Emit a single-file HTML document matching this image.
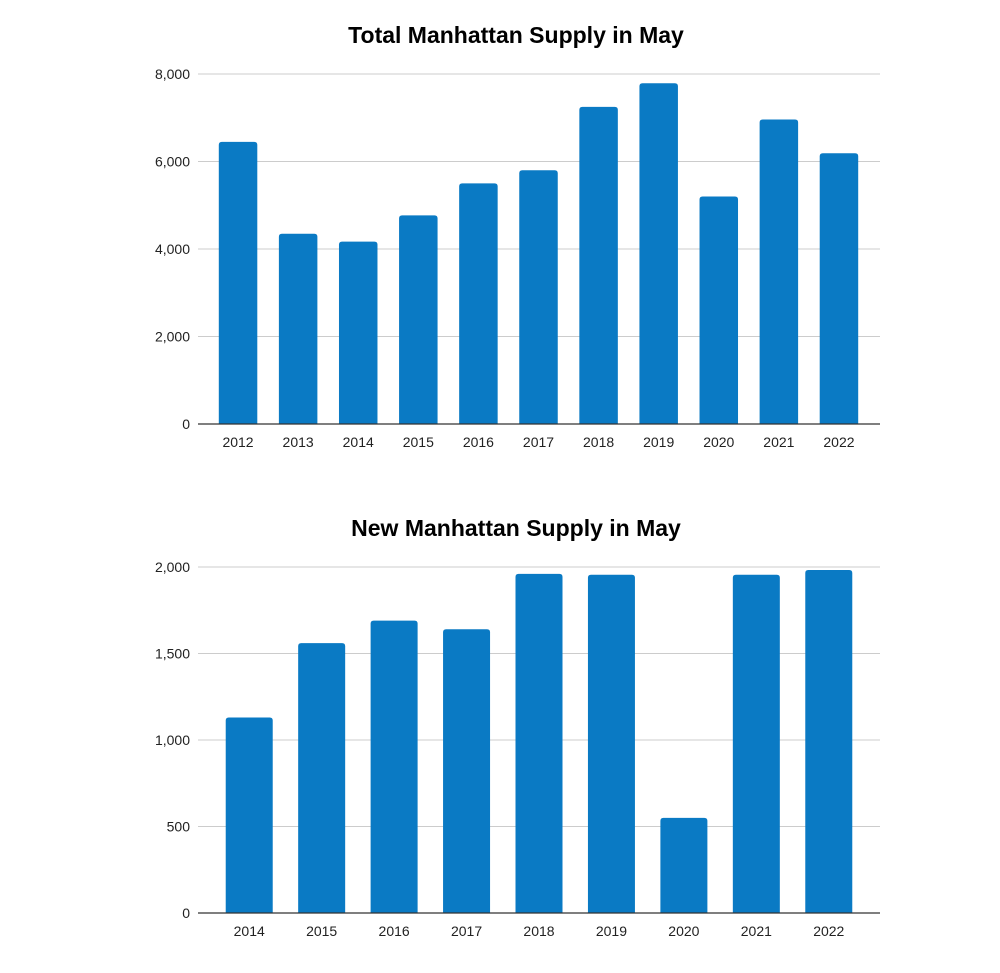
<!DOCTYPE html>
<html><head><meta charset="utf-8"><style>
body{margin:0;background:#fff;}
svg text{font-family:"Liberation Sans",Arial,sans-serif;}
</style></head><body>
<svg id="c" width="1000" height="968"></svg>
<script>
const cats1=["2012","2013","2014","2015","2016","2017","2018","2019","2020","2021","2022"];
const vals1=[6450,4350,4170,4770,5500,5800,7250,7790,5200,6960,6190];
const ticks1=[0,2000,4000,6000,8000];
const cats2=["2014","2015","2016","2017","2018","2019","2020","2021","2022"];
const vals2=[1130,1560,1690,1640,1960,1955,550,1955,1983];
const ticks2=[0,500,1000,1500,2000];
const NS="http://www.w3.org/2000/svg";
const svg=document.getElementById('c');
function mk(t,a,p){const e=document.createElementNS(NS,t);for(const k in a)e.setAttribute(k,a[k]);(p||svg).appendChild(e);return e;}
function chart(cfg){
  const g=mk('g',{});
  
  
  const t=mk('text',{x:516,y:cfg.titleY,'text-anchor':'middle','font-size':23,'font-weight':'bold',fill:'#000'},g);
  t.textContent=cfg.title;
  
  
  const maxV=cfg.ticks[cfg.ticks.length-1];
  const y=v=>cfg.y0-(v/maxV)*(cfg.y0-cfg.yTop);
  cfg.ticks.forEach(v=>{
    if(v>0){const l=mk('line',{x1:198,x2:880,y1:y(v),y2:y(v),stroke:'#ccc','stroke-width':1},g);
      
      }
    const tx=mk('text',{x:190,y:y(v)+5,'text-anchor':'end','font-size':14,fill:'#222'},g);
    tx.textContent=v.toLocaleString('en-US');
    
    
  });
  const n=cfg.cats.length;
  const x=i=>cfg.xL+(i+0.5)*(cfg.xR-cfg.xL)/n;
  cfg.vals.forEach((v,i)=>{
    const h=cfg.y0-y(v),bw=cfg.bw,r=3;
    const x0=x(i)-bw/2,yt=y(v);
    const p=mk('path',{d:`M${x0},${cfg.y0}V${yt+r}Q${x0},${yt} ${x0+r},${yt}H${x0+bw-r}Q${x0+bw},${yt} ${x0+bw},${yt+r}V${cfg.y0}Z`,fill:'#0a7ac4'},g);
    
    
    const lb=mk('text',{x:x(i),y:cfg.y0+23,'text-anchor':'middle','font-size':14,fill:'#222'},g);
    lb.textContent=cfg.cats[i];
    
    
  });
  const ax=mk('line',{x1:198,x2:880,y1:cfg.y0,y2:cfg.y0,stroke:'#333','stroke-width':1.2},g);
  
  
}
chart({name:'total-supply-chart',title:'Total Manhattan Supply in May',titleY:43,cats:cats1,vals:vals1,ticks:ticks1,y0:424,yTop:74,xL:208,xR:869,bw:38.5});
chart({name:'new-supply-chart',title:'New Manhattan Supply in May',titleY:536,cats:cats2,vals:vals2,ticks:ticks2,y0:913,yTop:567,xL:213,xR:865,bw:47});
</script>
</body></html>
